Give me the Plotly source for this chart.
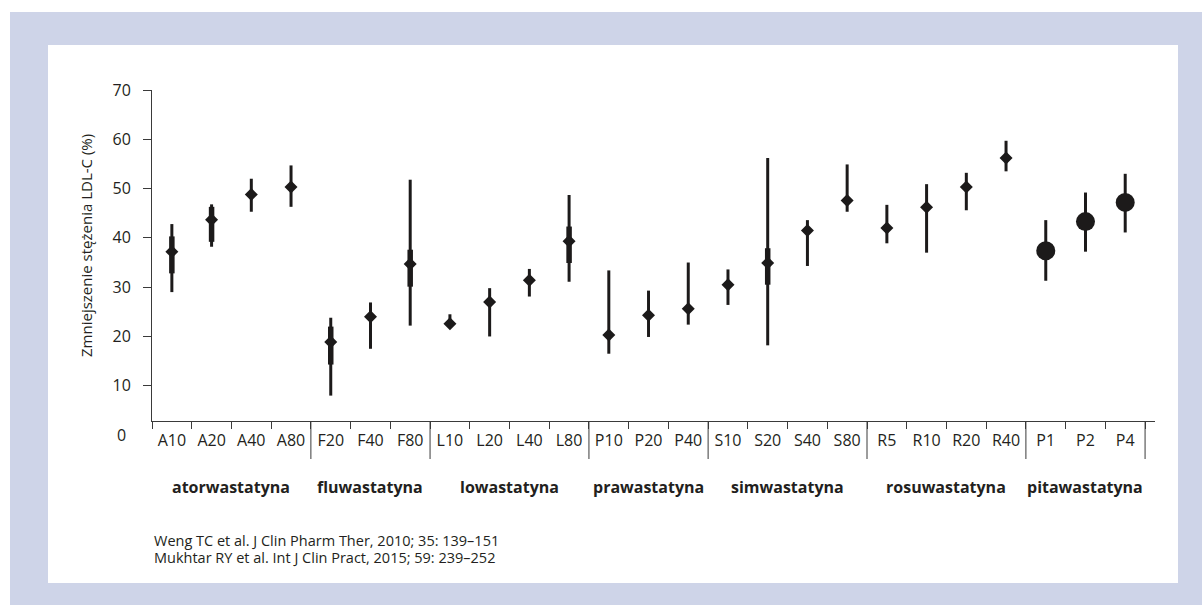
import plotly.graph_objects as go

categories = ["A10", "A20", "A40", "A80", "F20", "F40", "F80", "L10", "L20", "L40", "L80",
              "P10", "P20", "P40", "S10", "S20", "S40", "S80", "R5", "R10", "R20", "R40",
              "P1", "P2", "P4"]
mean_ldl = [37.2, 43.7, 48.8, 50.3, 18.9, 24.0, 34.7, 22.6, 27.0, 31.4, 39.3,
            20.3, 24.3, 25.6, 30.5, 34.9, 41.5, 47.6, 42.0, 46.2, 50.3, 56.2,
            37.4, 43.3, 47.2]
upper_ldl = [42.8, 46.8, 52.0, 54.7, 23.8, 26.9, 51.8, 24.5, 29.8, 33.7, 48.7,
             33.4, 29.3, 35.0, 33.6, 56.2, 43.6, 54.9, 46.7, 50.9, 53.2, 59.7,
             43.6, 49.2, 53.0]
lower_ldl = [29.0, 38.2, 45.3, 46.3, 8.0, 17.5, 22.2, 22.6, 20.0, 28.1, 31.1,
             16.5, 19.9, 22.4, 26.4, 18.2, 34.3, 45.3, 38.9, 37.0, 45.6, 53.5,
             31.3, 37.2, 41.1]
symbols = ["diamond"] * 22 + ["circle"] * 3

inner_cats = ["A10", "A20", "F20", "F80", "L80", "S20"]
inner_upper = [40.3, 46.3, 22.0, 37.6, 42.3, 37.9]
inner_lower = [32.8, 39.2, 14.3, 30.1, 34.9, 30.5]

groups = ["atorwastatyna", "fluwastatyna", "lowastatyna", "prawastatyna",
          "simwastatyna", "rosuwastatyna", "pitawastatyna"]
group_sizes = [4, 3, 4, 3, 4, 4, 3]

y_ticks = [10, 20, 30, 40, 50, 60, 70]
y_zero_label = "0"
y_title = "Zmniejszenie stężenia LDL-C (%)"
footnotes = ["Weng TC et al. J Clin Pharm Ther, 2010; 35: 139–151",
             "Mukhtar RY et al. Int J Clin Pract, 2015; 59: 239–252"]

INK = "#1c1a1a"
TXT = "#231f20"
AX = "#3a3a3a"
FONT = "Open Sans"
W, H = 1202, 605
L, R, T, B = 152, 1155, 90, 421
pw, ph = R - L, B - T


def px(x):
    return (x - L) / pw


def py(y):
    return (B - y) / ph


fig = go.Figure()

fig.add_trace(go.Scatter(
    x=categories, y=mean_ldl, mode="markers",
    marker=dict(symbol=symbols, size=[10] * 22 + [19] * 3, color=INK, opacity=1,
                line=dict(width=0)),
    error_y=dict(type="data", symmetric=False,
                 array=[u - m for u, m in zip(upper_ldl, mean_ldl)],
                 arrayminus=[m - l for m, l in zip(mean_ldl, lower_ldl)],
                 thickness=3, width=0, color=INK),
    showlegend=False, hoverinfo="skip"))

inner_mean = [mean_ldl[categories.index(c)] for c in inner_cats]
fig.add_trace(go.Scatter(
    x=inner_cats, y=inner_mean, mode="markers",
    marker=dict(size=1, color="rgba(0,0,0,0)"),
    error_y=dict(type="data", symmetric=False,
                 array=[u - m for u, m in zip(inner_upper, inner_mean)],
                 arrayminus=[m - l for m, l in zip(inner_mean, inner_lower)],
                 thickness=5.5, width=0, color=INK),
    showlegend=False, hoverinfo="skip"))

shapes = [
    dict(type="rect", xref="paper", yref="paper", x0=px(10), x1=px(1202), y0=py(12), y1=py(605),
         fillcolor="#ced4e8", line=dict(width=0), layer="below"),
    dict(type="rect", xref="paper", yref="paper", x0=px(48), x1=px(1178), y0=py(45), y1=py(583),
         fillcolor="white", line=dict(width=0), layer="below"),
]
pos = -0.5
annotations = []
for g, n in zip(groups, group_sizes):
    center = pos + n / 2
    pos += n
    shapes.append(dict(type="line", xref="x", yref="paper", x0=pos, x1=pos, y0=0, y1=py(459),
                       line=dict(color=AX, width=1)))
    annotations.append(dict(x=center, y=py(487), xref="x", yref="paper", text="<b>%s</b>" % g,
                            showarrow=False, font=dict(family=FONT, size=16, color=TXT),
                            xanchor="center", yanchor="middle"))

# y=0 sits just below the drawn x-axis line (axis starts at ~2.85)
y_min, y_max = 2.85, 70
zero_paper = (0 - y_min) / (y_max - y_min)
annotations.append(dict(x=px(128), y=zero_paper, xref="paper", yref="paper", text=y_zero_label,
                        showarrow=False, xanchor="right", yanchor="middle",
                        font=dict(family=FONT, size=16, color=TXT)))
annotations.append(dict(x=px(86), y=py(246), xref="paper", yref="paper", text=y_title,
                        textangle=-90, showarrow=False, xanchor="center", yanchor="middle",
                        font=dict(family=FONT, size=15, color=TXT)))
for i, f in enumerate(footnotes):
    annotations.append(dict(x=px(152), y=py(540 + 17 * i), xref="paper", yref="paper", text=f,
                            showarrow=False, xanchor="left", yanchor="middle",
                            font=dict(family=FONT, size=14.5, color=TXT)))

fig.update_layout(
    width=W, height=H,
    margin=dict(l=L, r=W - R, t=T, b=H - B, pad=0),
    paper_bgcolor="white", plot_bgcolor="rgba(0,0,0,0)",
    font=dict(family=FONT, size=16, color=TXT),
    shapes=shapes, annotations=annotations,
    xaxis=dict(type="category", categoryorder="array", categoryarray=categories,
               range=[-0.5, 24.75], showgrid=False, zeroline=False,
               showline=True, linecolor=AX, linewidth=1,
               ticks="outside", tickson="boundaries", ticklen=7, tickcolor=AX,
               tickwidth=1, ticklabelstandoff=5, tickfont=dict(family=FONT, size=16, color=TXT)),
    yaxis=dict(range=[y_min, y_max], tickvals=y_ticks, showgrid=False, zeroline=False,
               showline=True, linecolor=AX, linewidth=1,
               ticks="outside", ticklen=8, tickcolor=AX, tickwidth=1,
               ticklabelstandoff=9, tickfont=dict(family=FONT, size=16, color=TXT)),
)

fig.write_html("out.html", config={"displayModeBar": False},
               post_script="document.body.style.margin='0';")
